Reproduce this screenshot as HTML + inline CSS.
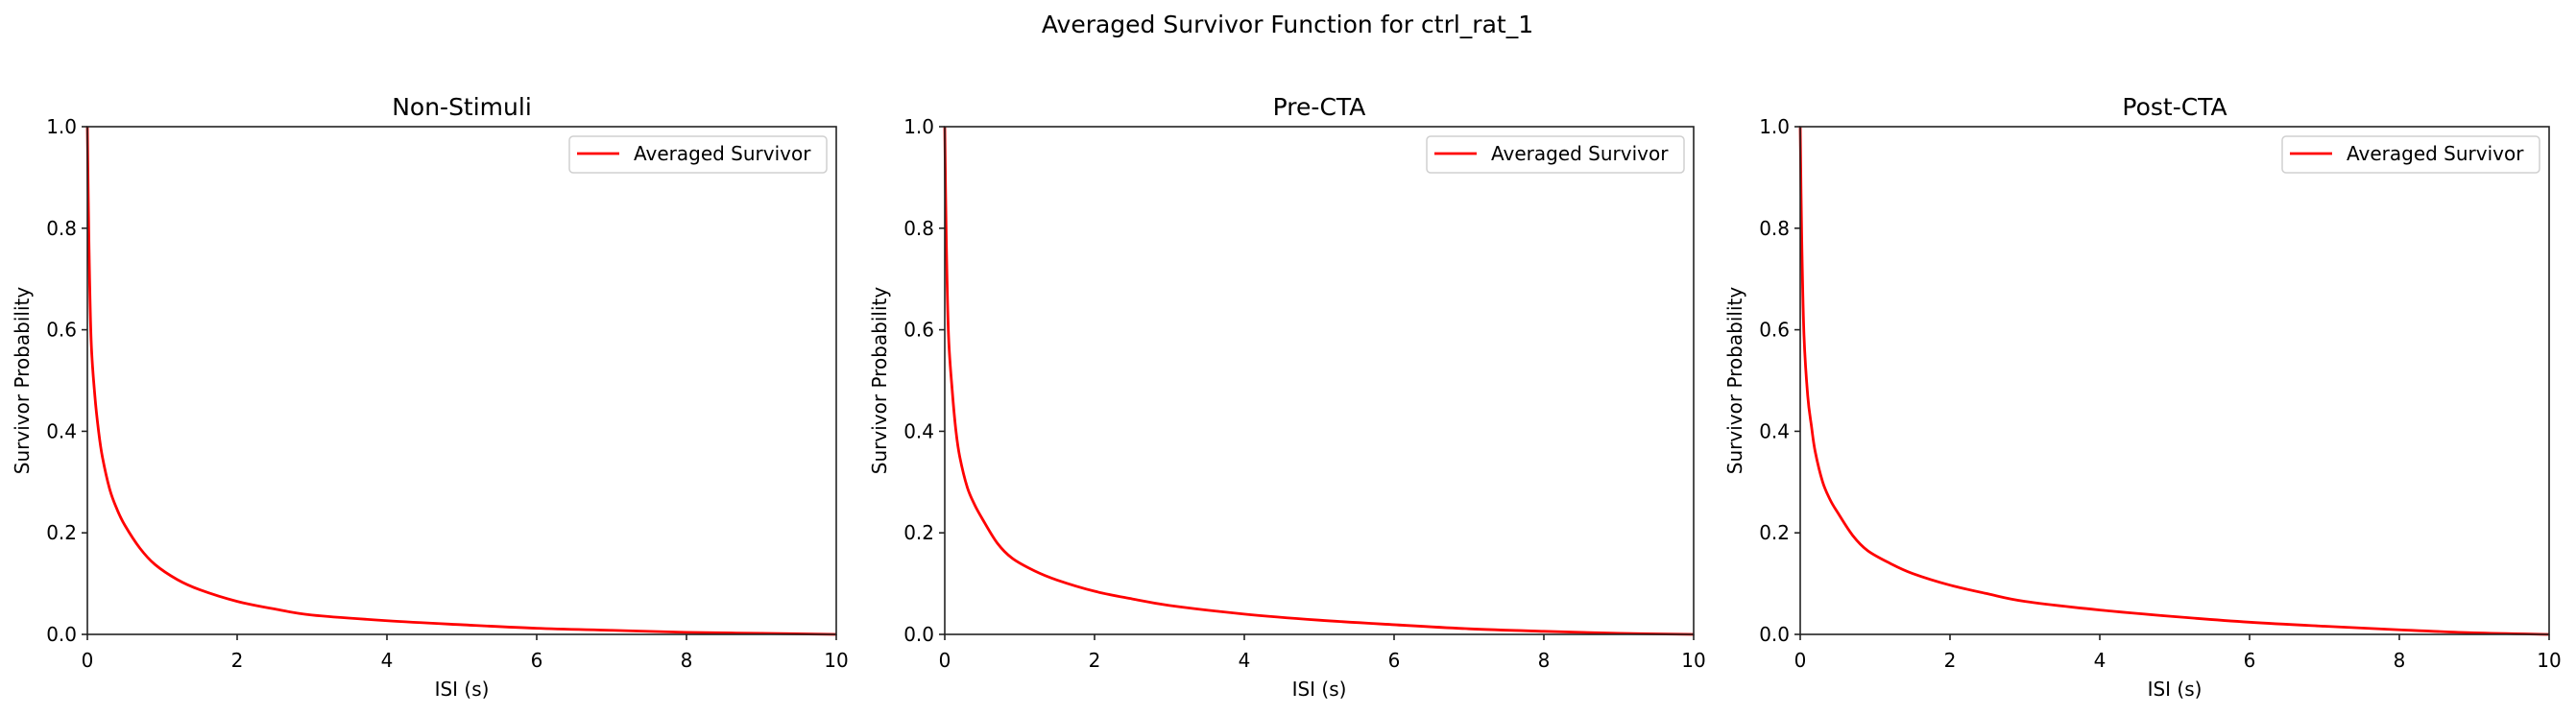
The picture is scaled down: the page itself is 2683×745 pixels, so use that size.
<!DOCTYPE html>
<html><head><meta charset="utf-8"><style>
html,body{margin:0;padding:0;background:#fff;}
svg text{font-family:"DejaVu Sans","Liberation Sans",sans-serif;fill:#000;}
</style></head><body>
<svg id="fig" width="2683" height="740" xmlns="http://www.w3.org/2000/svg">
<text x="1341" y="34" font-size="25" text-anchor="middle">Averaged Survivor Function for ctrl_rat_1</text>
</svg>
<script>
const xTicks = [0, 2, 4, 6, 8, 10];
const yTicks = [0.0, 0.2, 0.4, 0.6, 0.8, 1.0];
const panelTitles = ["Non-Stimuli", "Pre-CTA", "Post-CTA"];
const isiX = [0, 0.02, 0.05, 0.1, 0.15, 0.2, 0.3, 0.4, 0.5, 0.7, 0.9, 1.2, 1.5, 2, 2.5, 3, 4, 5, 6, 7, 8, 9, 10];
const nonStimY = [1.0, 0.78, 0.58, 0.47, 0.40, 0.35, 0.285, 0.245, 0.215, 0.17, 0.138, 0.108, 0.088, 0.065, 0.05, 0.038, 0.027, 0.019, 0.012, 0.008, 0.004, 0.002, 0.0];
const preCtaY  = [1.0, 0.78, 0.59, 0.48, 0.40, 0.35, 0.29, 0.255, 0.228, 0.18, 0.15, 0.125, 0.107, 0.085, 0.07, 0.057, 0.04, 0.028, 0.019, 0.011, 0.006, 0.002, 0.0];
const postCtaY = [1.0, 0.78, 0.59, 0.47, 0.41, 0.36, 0.30, 0.265, 0.24, 0.195, 0.165, 0.14, 0.12, 0.097, 0.08, 0.065, 0.048, 0.035, 0.024, 0.016, 0.009, 0.003, 0.0];
const seriesList = [nonStimY, preCtaY, postCtaY];

const NS = "http://www.w3.org/2000/svg";
const svg = document.getElementById("fig");
const lefts = [91, 984, 1875];
const W = 780, TOP = 132, BOT = 661;
function mk(tag, attrs, parent) {
  const e = document.createElementNS(NS, tag);
  for (const k in attrs) e.setAttribute(k, attrs[k]);
  (parent || svg).appendChild(e);
  return e;
}
function smoothPath(P) {
  let d = "M" + P[0][0] + "," + P[0][1];
  for (let i = 0; i < P.length - 1; i++) {
    const p0 = P[Math.max(0, i - 1)], p1 = P[i], p2 = P[i + 1], p3 = P[Math.min(P.length - 1, i + 2)];
    const c1x = p1[0] + (p2[0] - p0[0]) / 6, c1y = p1[1] + (p2[1] - p0[1]) / 6;
    const c2x = p2[0] - (p3[0] - p1[0]) / 6, c2y = p2[1] - (p3[1] - p1[1]) / 6;
    d += " C" + c1x + "," + c1y + " " + c2x + "," + c2y + " " + p2[0] + "," + p2[1];
  }
  return d;
}
const slug = ["non-stimuli", "pre-cta", "post-cta"];
for (let p = 0; p < 3; p++) {
  const L = lefts[p];
  const sx = v => L + v / 10 * W;
  const sy = v => BOT - v * (BOT - TOP);
  const g = mk("g", {});
  
  
  const t = mk("text", {x: L + W / 2, y: 120, "font-size": 25, "text-anchor": "middle"}, g);
  t.textContent = panelTitles[p];
  
  
  const pts = isiX.map((x, i) => [sx(x), sy(seriesList[p][i])]);
  const line = mk("path", {d: smoothPath(pts), fill: "none", stroke: "#ff0000", "stroke-width": 2.8, "stroke-linejoin": "round"}, g);
  
  
  const fr = mk("rect", {x: L, y: TOP, width: W, height: BOT - TOP, fill: "none", stroke: "#222", "stroke-width": 1.6}, g);
  
  
  xTicks.forEach(v => {
    mk("line", {x1: sx(v), x2: sx(v), y1: BOT, y2: BOT + 6, stroke: "#222", "stroke-width": 1.6}, g);
    const tx = mk("text", {x: sx(v), y: 695, "font-size": 20, "text-anchor": "middle"}, g);
    tx.textContent = v;
    
    
  });
  yTicks.forEach(v => {
    mk("line", {x1: L - 6, x2: L, y1: sy(v), y2: sy(v), stroke: "#222", "stroke-width": 1.6}, g);
    const ty = mk("text", {x: L - 11, y: sy(v) + 7, "font-size": 20, "text-anchor": "end"}, g);
    ty.textContent = v.toFixed(1);
    
    
  });
  const xl = mk("text", {x: L + W / 2, y: 725, "font-size": 20, "text-anchor": "middle"}, g);
  xl.textContent = "ISI (s)";
  
  
  const yl = mk("text", {x: 0, y: 0, "font-size": 20, "text-anchor": "middle", transform: "translate(" + (L - 61) + "," + ((TOP + BOT) / 2) + ") rotate(-90)"}, g);
  yl.textContent = "Survivor Probability";
  
  
  const lg = mk("g", {}, g);
  
  
  const lx = L + W - 10 - 268;
  mk("rect", {x: lx, y: 142, width: 268, height: 38, rx: 4, fill: "#fff", stroke: "#d0d0d0", "stroke-width": 1.5}, lg);
  mk("line", {x1: lx + 8, x2: lx + 52, y1: 160, y2: 160, stroke: "#ff0000", "stroke-width": 2.8}, lg);
  const lt = mk("text", {x: lx + 67, y: 167, "font-size": 20}, lg);
  lt.textContent = "Averaged Survivor";
  
  
}
</script>
</body></html>
